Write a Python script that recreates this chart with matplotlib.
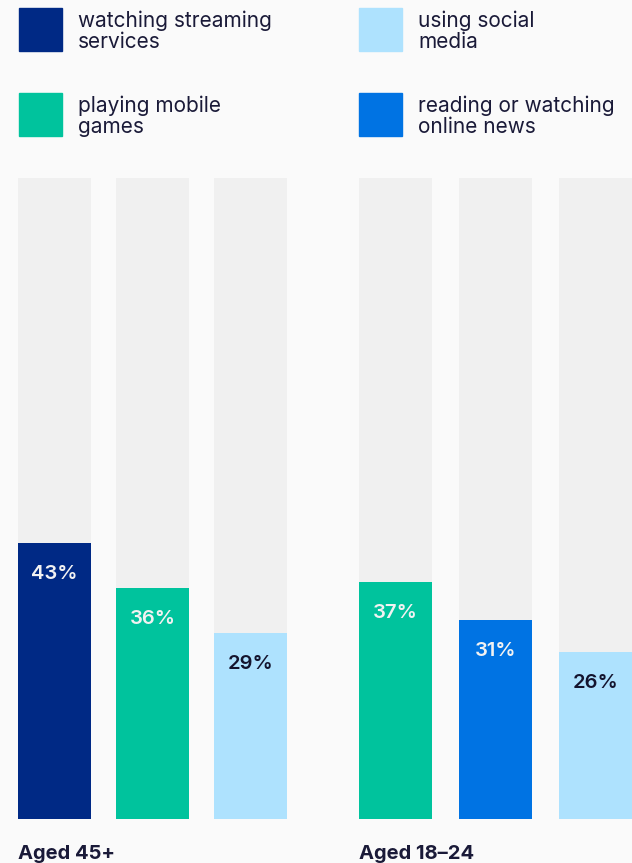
import matplotlib.pyplot as plt
from matplotlib.patches import Rectangle

plt.rcParams['font.family'] = ['Inter', 'DejaVu Sans']

# data
groups = ["Aged 45+", "Aged 18\u201324"]
group_cats = [
    ["watching streaming services", "playing mobile games", "using social media"],
    ["playing mobile games", "reading or watching online news", "using social media"],
]
group_vals = [[43, 36, 29], [37, 31, 26]]

legend_labels = ["watching streaming\nservices", "using social\nmedia",
                 "playing mobile\ngames", "reading or watching\nonline news"]
legend_keys = ["watching streaming services", "using social media",
               "playing mobile games", "reading or watching online news"]

colors = {
    "watching streaming services": "#002985",
    "playing mobile games": "#00C39D",
    "using social media": "#AEE2FE",
    "reading or watching online news": "#0073E3",
}
label_colors = {
    "watching streaming services": "#F2F2F2",
    "playing mobile games": "#F2F2F2",
    "using social media": "#14142E",
    "reading or watching online news": "#F2F2F2",
}

BG = "#FAFAFA"
TRACK = "#F0F0F0"
TEXT = "#1A1A38"

W, H = 632, 863
fig = plt.figure(figsize=(W / 100, H / 100), dpi=100, facecolor=BG)

def px_axes(x0, x1, y0, y1):
    # pixel box (top-left origin) -> figure axes
    return fig.add_axes([x0 / W, 1 - y1 / H, (x1 - x0) / W, (y1 - y0) / H])

# (left px, right px, spacing px) for each group
boxes = [(18, 287, 98), (359, 632, 100)]
bar_w_px = 73

for gi, (name, cats, vals) in enumerate(zip(groups, group_cats, group_vals)):
    x0, x1, sp = boxes[gi]
    ax = px_axes(x0, x1, 178, 819)
    ax.set_facecolor("none")
    w = bar_w_px / sp
    xs = range(len(vals))
    ax.bar(xs, [100] * len(vals), width=w, color=TRACK, zorder=1)
    ax.bar(xs, vals, width=w, color=[colors[c] for c in cats], zorder=2)
    ax.set_xlim(-w / 2, len(vals) - 1 + w / 2)
    ax.set_ylim(0, 100)
    ax.axis("off")
    for i, (c, v) in enumerate(zip(cats, vals)):
        ax.annotate(f"{v}%", xy=(i, v), xytext=(0, -31), textcoords="offset pixels",
                    ha="center", va="center", fontsize=14.5, fontweight="semibold",
                    color=label_colors[c], zorder=3)
    ax.annotate(name, xy=(0, 0), xycoords="axes fraction", xytext=(0, -40),
                textcoords="offset pixels", ha="left", va="baseline",
                fontsize=14.5, fontweight="bold", color=TEXT, annotation_clip=False)

# legend
leg_pos = [(19, 8), (359, 8), (19, 93), (359, 93)]
for (lx, ly), key, lab in zip(leg_pos, legend_keys, legend_labels):
    fig.patches.append(Rectangle((lx / W, 1 - (ly + 43) / H), 43 / W, 43 / H,
                                 transform=fig.transFigure, color=colors[key]))
    fig.text((lx + 59) / W, 1 - (ly + 23) / H, lab, ha="left", va="center",
             fontsize=15.0, color=TEXT, linespacing=1.09)

fig.savefig("out.png", dpi=100, facecolor=BG)
